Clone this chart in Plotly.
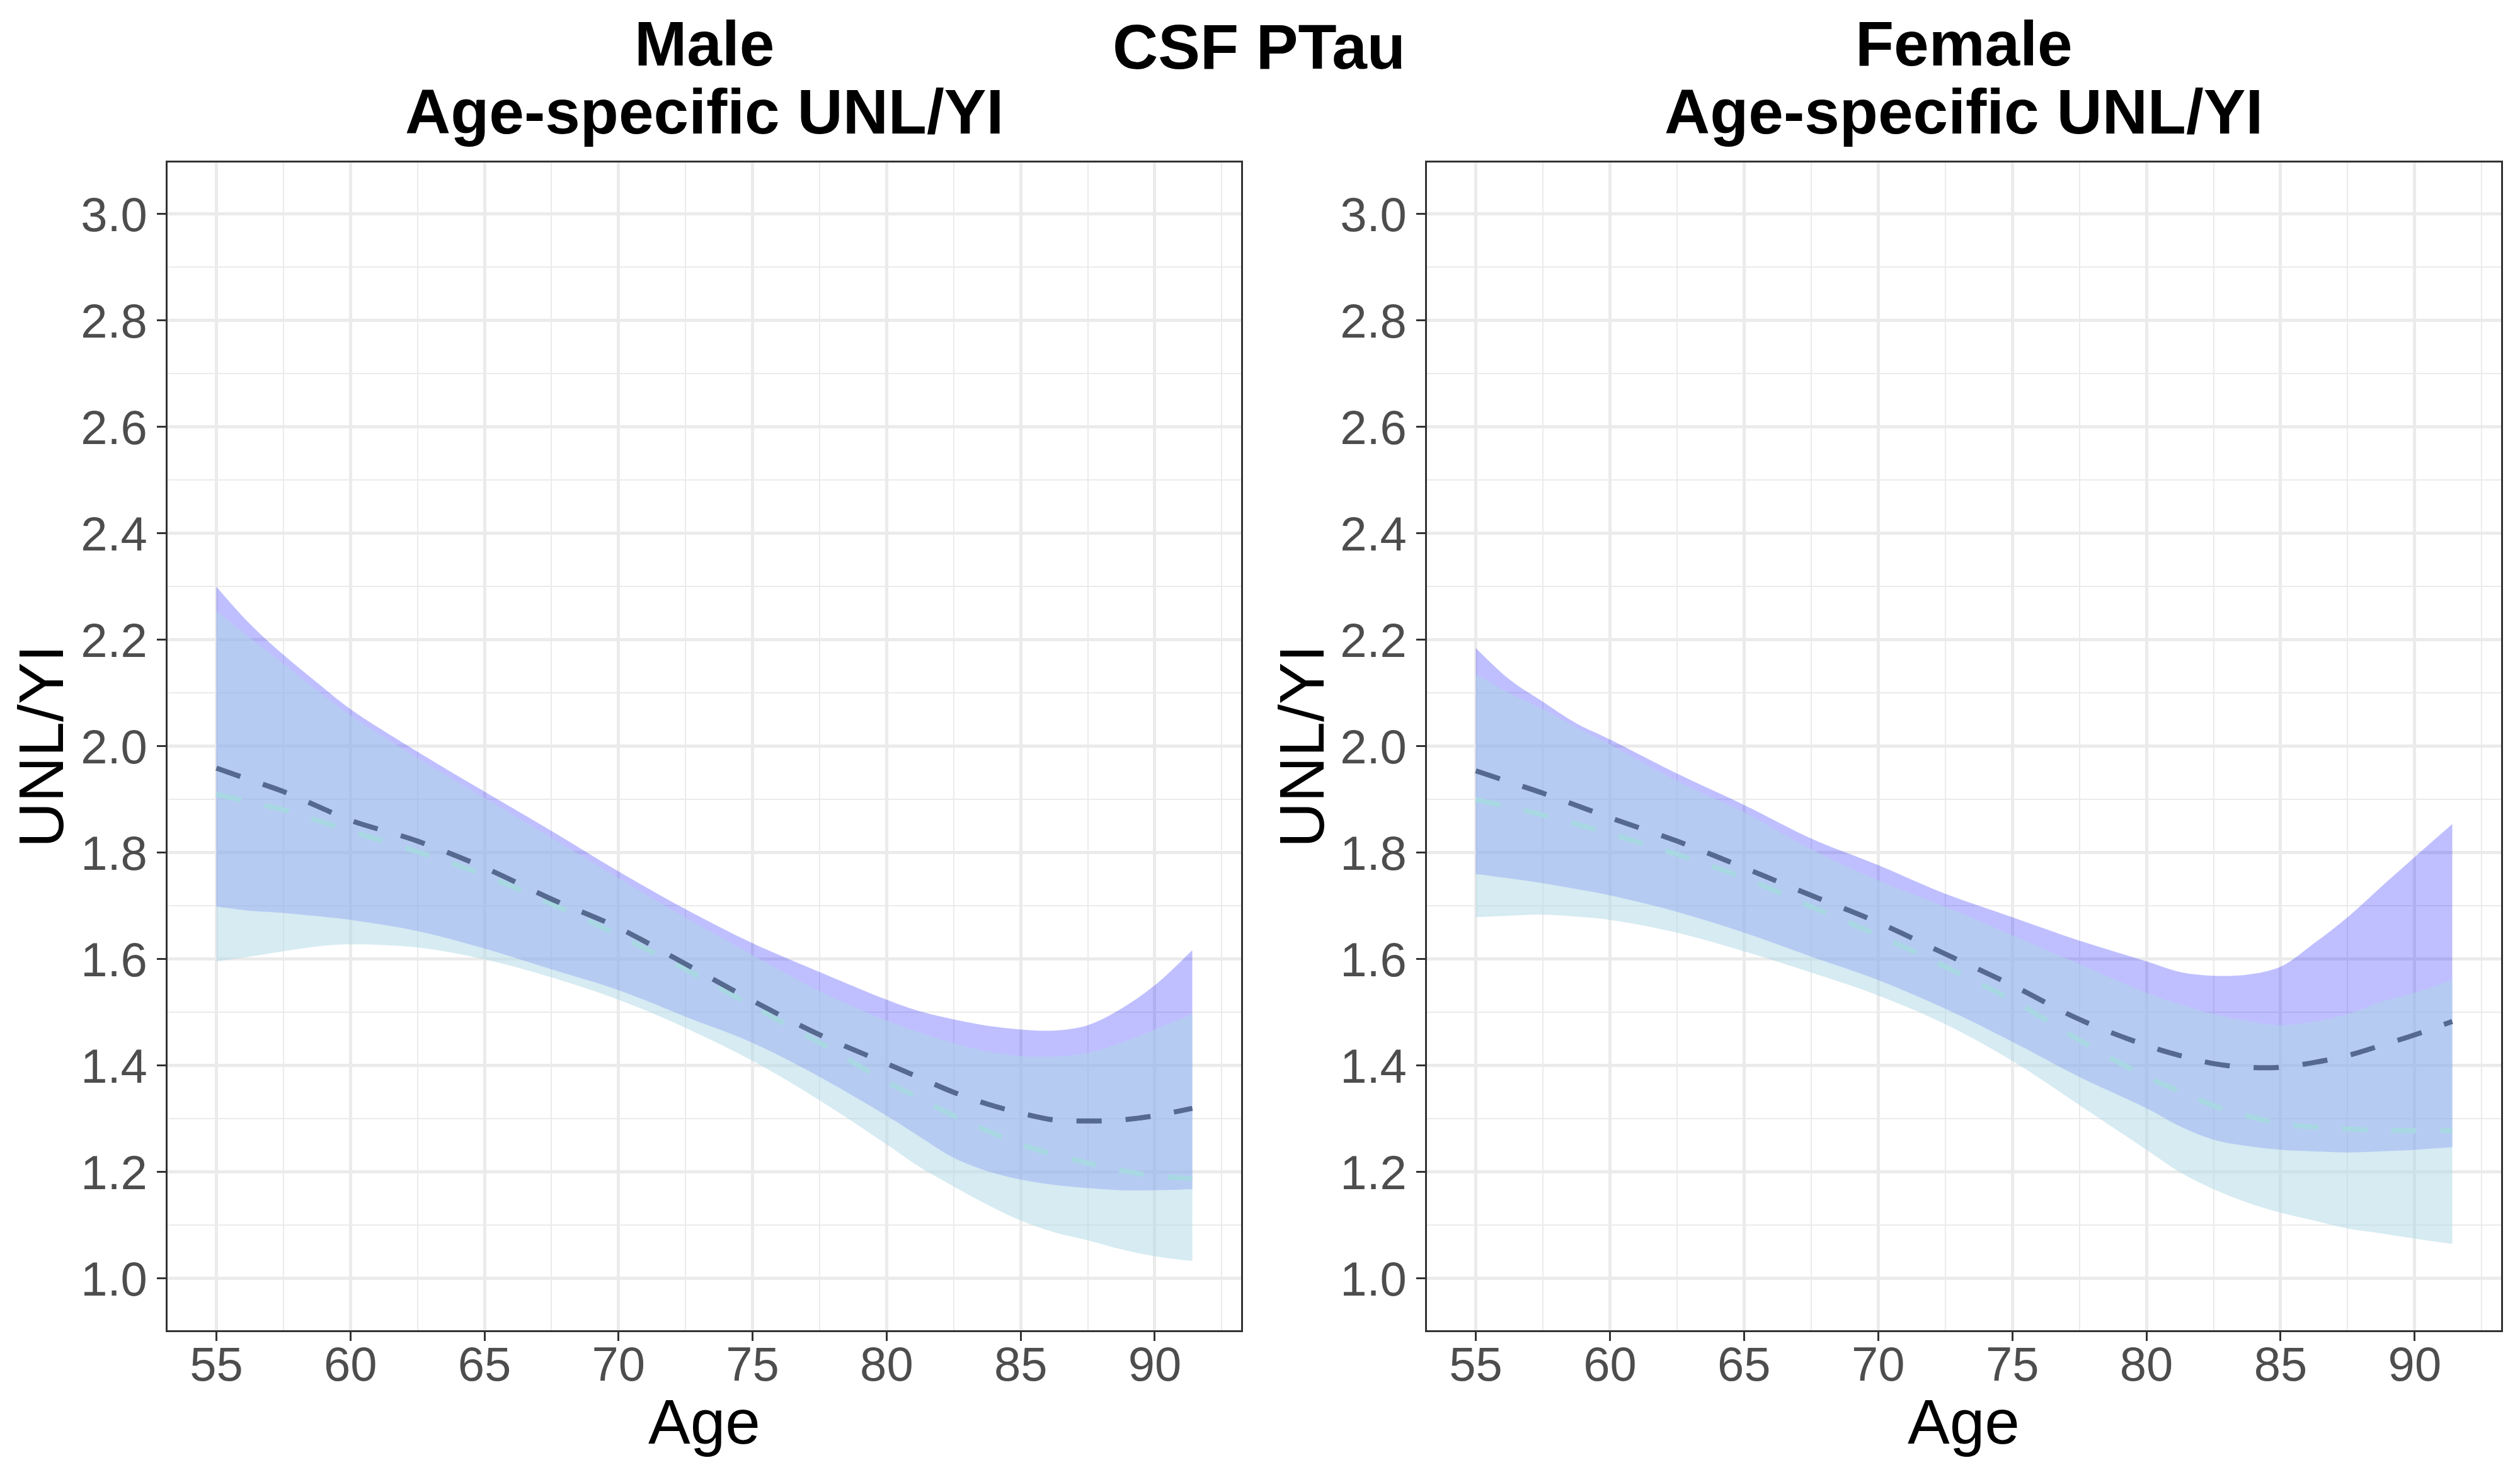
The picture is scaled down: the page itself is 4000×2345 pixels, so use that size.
import plotly.graph_objects as go
from plotly.subplots import make_subplots

ages = [55, 56.25, 57.5, 58.75, 60, 62.5, 65, 67.5, 70, 72.5, 75, 77.5, 80,
        81.25, 82.5, 83.75, 85, 86.25, 87.5, 88.75, 90, 91.4]

# Male
male_a_upper = [2.300, 2.230, 2.172, 2.120, 2.070, 1.990, 1.915, 1.841, 1.765, 1.694, 1.630, 1.576, 1.524,
                1.502, 1.487, 1.475, 1.468, 1.466, 1.476, 1.507, 1.551, 1.617]
male_a_lower = [1.699, 1.691, 1.687, 1.681, 1.674, 1.653, 1.620, 1.581, 1.542, 1.492, 1.443, 1.379, 1.306,
                1.266, 1.227, 1.202, 1.186, 1.176, 1.170, 1.166, 1.166, 1.168]
male_a_mean = [1.959, 1.937, 1.915, 1.888, 1.861, 1.822, 1.772, 1.713, 1.659, 1.591, 1.522, 1.458, 1.404,
               1.377, 1.350, 1.328, 1.311, 1.298, 1.296, 1.298, 1.306, 1.320]
male_b_upper = [2.254, 2.204, 2.155, 2.105, 2.058, 1.978, 1.903, 1.828, 1.752, 1.678, 1.608, 1.540, 1.485,
                1.462, 1.442, 1.427, 1.418, 1.417, 1.424, 1.443, 1.468, 1.497]
male_b_lower = [1.596, 1.605, 1.615, 1.624, 1.628, 1.622, 1.600, 1.566, 1.524, 1.471, 1.409, 1.335, 1.252,
                1.209, 1.173, 1.139, 1.109, 1.087, 1.072, 1.055, 1.042, 1.033]
male_b_mean = [1.910, 1.895, 1.881, 1.861, 1.841, 1.802, 1.758, 1.704, 1.645, 1.581, 1.512, 1.443, 1.370,
               1.338, 1.306, 1.278, 1.252, 1.233, 1.217, 1.203, 1.193, 1.188]

# Female
female_a_upper = [2.185, 2.126, 2.084, 2.043, 2.013, 1.949, 1.890, 1.827, 1.777, 1.723, 1.679, 1.635, 1.596,
                  1.576, 1.569, 1.571, 1.586, 1.630, 1.679, 1.736, 1.792, 1.854]
female_a_lower = [1.760, 1.752, 1.743, 1.732, 1.720, 1.689, 1.650, 1.605, 1.561, 1.507, 1.445, 1.379, 1.320,
                  1.286, 1.261, 1.249, 1.242, 1.239, 1.237, 1.239, 1.242, 1.247]
female_a_mean = [1.954, 1.933, 1.912, 1.889, 1.866, 1.822, 1.772, 1.720, 1.669, 1.610, 1.551, 1.487, 1.438,
                 1.419, 1.404, 1.397, 1.397, 1.406, 1.419, 1.438, 1.458, 1.483]
female_b_upper = [2.136, 2.100, 2.070, 2.035, 2.003, 1.935, 1.876, 1.807, 1.748, 1.699, 1.645, 1.591, 1.537,
                  1.515, 1.497, 1.484, 1.476, 1.483, 1.497, 1.520, 1.537, 1.561]
female_b_lower = [1.679, 1.682, 1.684, 1.680, 1.674, 1.650, 1.615, 1.575, 1.532, 1.478, 1.409, 1.326, 1.242,
                  1.200, 1.168, 1.143, 1.124, 1.109, 1.094, 1.085, 1.075, 1.065]
female_b_mean = [1.900, 1.886, 1.871, 1.854, 1.836, 1.797, 1.753, 1.699, 1.645, 1.586, 1.523, 1.448, 1.379,
                 1.352, 1.325, 1.306, 1.291, 1.285, 1.281, 1.279, 1.278, 1.278]

x_ticks = [55, 60, 65, 70, 75, 80, 85, 90]
y_ticks = [1.0, 1.2, 1.4, 1.6, 1.8, 2.0, 2.2, 2.4, 2.6, 2.8, 3.0]

FONT = "Liberation Sans, Arial, sans-serif"
PURPLE_FILL = "rgba(0,0,255,0.25)"
LBLUE_FILL = "rgba(173,216,230,0.5)"
DARK_LINE = "#56698F"
LBLUE_LINE = "#A8D8E2"
DASH = "40px,38px"

fig = make_subplots(rows=1, cols=2)

panels = [
    (1, male_a_upper, male_a_lower, male_a_mean, male_b_upper, male_b_lower, male_b_mean),
    (2, female_a_upper, female_a_lower, female_a_mean, female_b_upper, female_b_lower, female_b_mean),
]

for col, au, al, am, bu, bl, bm in panels:
    fig.add_trace(go.Scatter(x=ages, y=al, mode="lines", line=dict(width=0, shape="spline"),
                             showlegend=False, hoverinfo="skip"), row=1, col=col)
    fig.add_trace(go.Scatter(x=ages, y=au, mode="lines", line=dict(width=0, shape="spline"),
                             fill="tonexty", fillcolor=PURPLE_FILL, showlegend=False), row=1, col=col)
    fig.add_trace(go.Scatter(x=ages, y=bl, mode="lines", line=dict(width=0, shape="spline"),
                             showlegend=False, hoverinfo="skip"), row=1, col=col)
    fig.add_trace(go.Scatter(x=ages, y=bu, mode="lines", line=dict(width=0, shape="spline"),
                             fill="tonexty", fillcolor=LBLUE_FILL, showlegend=False), row=1, col=col)
    fig.add_trace(go.Scatter(x=ages, y=bm, mode="lines",
                             line=dict(color=LBLUE_LINE, width=8, dash=DASH, shape="spline"),
                             showlegend=False), row=1, col=col)
    fig.add_trace(go.Scatter(x=ages, y=am, mode="lines",
                             line=dict(color=DARK_LINE, width=8, dash=DASH, shape="spline"),
                             showlegend=False), row=1, col=col)

axis_common = dict(
    showline=True, mirror=True, linecolor="#333333", linewidth=3,
    ticks="outside", ticklen=14, tickwidth=3, tickcolor="#333333",
    tickfont=dict(family=FONT, size=76, color="#4D4D4D"),
    showgrid=True, gridcolor="#EBEBEB", gridwidth=4.5,
    zeroline=False,
)

# the page body has an 8px margin, so positions are shifted by -8px
x_domains = [[0.0645, 0.4905], [0.56425, 0.9905]]
for i, dom in enumerate(x_domains, start=1):
    fig.update_xaxes(domain=dom, range=[53.18, 93.22], tickvals=x_ticks,
                     ticktext=[str(v) for v in x_ticks], ticklabelstandoff=-28,
                     minor=dict(dtick=2.5, tick0=52.5, showgrid=True, gridcolor="#EBEBEB", gridwidth=2.2, ticks=""),
                     **axis_common, row=1, col=i)
    fig.update_yaxes(domain=[0.1028, 0.8934], range=[0.903, 3.097], tickvals=y_ticks,
                     ticktext=[f"{v:.1f}" for v in y_ticks],
                     minor=dict(dtick=0.1, tick0=0.9, showgrid=True, gridcolor="#EBEBEB", gridwidth=2.2, ticks=""),
                     **axis_common, row=1, col=i)

W, H = 4000, 2345
annotations = []
def ann(text, xpx, ypx, size, bold=False, angle=0):
    annotations.append(dict(
        text=f"<b>{text}</b>" if bold else text,
        x=xpx / W, y=1 - ypx / H, xref="paper", yref="paper",
        xanchor="center", yanchor="middle", showarrow=False, textangle=angle,
        font=dict(family=FONT, size=size, color="black")))

ann("Male", 1110, 61, 100, bold=True)
ann("Age-specific UNL/YI", 1110, 169, 100, bold=True)
ann("Female", 3109, 61, 100, bold=True)
ann("Age-specific UNL/YI", 3109, 169, 100, bold=True)
ann("CSF PTau", 1990, 66, 100, bold=True)
ann("Age", 1110, 2249, 100)
ann("Age", 3109, 2249, 100)
ann("UNL/YI", 57, 1177, 100, angle=-90)
ann("UNL/YI", 2058, 1177, 100, angle=-90)

fig.update_layout(
    width=W, height=H,
    margin=dict(l=0, r=0, t=0, b=0),
    paper_bgcolor="white", plot_bgcolor="white",
    annotations=annotations,
    showlegend=False,
)

fig.write_html("out.html")
